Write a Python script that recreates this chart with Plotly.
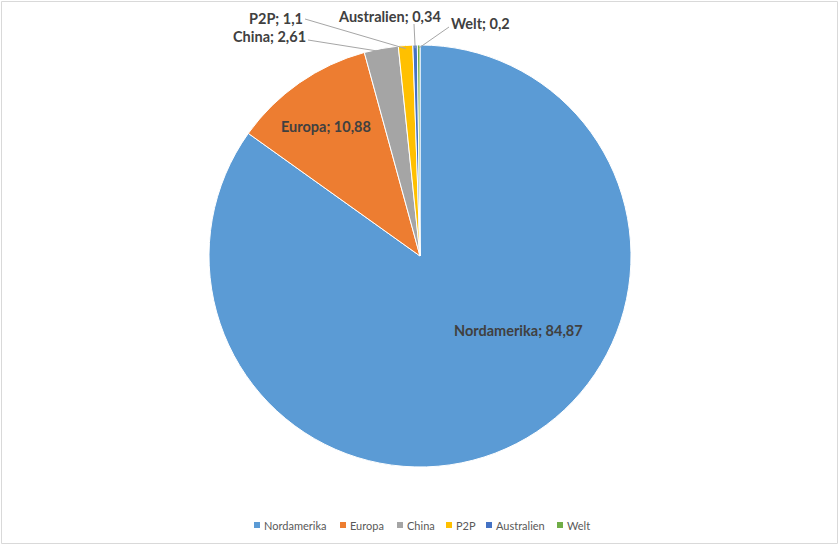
import math
import plotly.graph_objects as go

# ---- data ----
labels = ["Nordamerika", "Europa", "China", "P2P", "Australien", "Welt"]
values = [84.87, 10.88, 2.61, 1.1, 0.34, 0.2]
colors = ["#5b9bd5", "#ed7d31", "#a5a5a5", "#ffc000", "#4472c4", "#70ad47"]

W, H = 839, 545
CX, CY, R = 420, 256, 211  # pie centre / radius in pixels

def px(x):
    return x / W

def py(y):
    return 1 - y / H

# label positions (pixels) and leader line start points (None = inside label)
label_pos = [(518, 330), (326, 126), (269, 36), (276, 18), (389, 16), (480, 23)]
leader_start = [None, None, (308, 40), (305, 19), (414, 24), (449, 27)]
# custom legend: x of each colour square (pixels), legend row centre y
legend_x = [254, 340, 397, 446, 486, 557]
legend_y = 525

fig = go.Figure()
fig.add_trace(go.Pie(
    labels=labels,
    values=values,
    sort=False,
    direction="clockwise",
    rotation=0,
    marker=dict(colors=colors, line=dict(color="white", width=1)),
    textinfo="none",
    hoverinfo="label+value",
    showlegend=False,
    domain=dict(x=[px(CX - R), px(CX + R)], y=[py(CY + R), py(CY - R)]),
))

total = sum(values)
annotations = []
shapes = []
cum = 0.0
for lab, val, pos, start in zip(labels, values, label_pos, leader_start):
    mid = (cum + val / 2) / total * 2 * math.pi
    cum += val
    txt = f"<b>{lab}; {str(val).replace('.', ',')}</b>"
    annotations.append(dict(
        x=px(pos[0]), y=py(pos[1]), xref="paper", yref="paper",
        text=txt, showarrow=False, xanchor="center", yanchor="middle",
        font=dict(family="Lato, Carlito, sans-serif", size=14.5, color="#404040"),
    ))
    if start is not None:
        ex = CX + R * 0.985 * math.sin(mid)
        ey = CY - R * 0.985 * math.cos(mid)
        shapes.append(dict(
            type="line", xref="paper", yref="paper",
            x0=px(start[0]), y0=py(start[1]), x1=px(ex), y1=py(ey),
            line=dict(color="#a6a6a6", width=1),
        ))

# legend (squares + names)
for lab, col, lx in zip(labels, colors, legend_x):
    shapes.append(dict(
        type="rect", xref="paper", yref="paper",
        x0=px(lx), x1=px(lx + 6), y0=py(legend_y + 3), y1=py(legend_y - 3),
        fillcolor=col, line=dict(width=0),
    ))
    annotations.append(dict(
        x=px(lx + 8), y=py(legend_y), xref="paper", yref="paper",
        text=lab, showarrow=False, xanchor="left", yanchor="middle",
        font=dict(family="Lato, Carlito, sans-serif", size=11, color="#595959"),
    ))

shapes.append(dict(
    type="rect", xref="paper", yref="paper",
    x0=1.5 / W, y0=1.5 / H, x1=1 - 1.5 / W, y1=1 - 1.5 / H,
    line=dict(color="#d9d9d9", width=1),
))

fig.update_layout(
    width=W, height=H,
    margin=dict(l=0, r=0, t=0, b=0),
    paper_bgcolor="white",
    plot_bgcolor="white",
    separators=",.",
    showlegend=False,
    annotations=annotations,
    shapes=shapes,
)

fig.write_html(
    "out.html",
    config={"displayModeBar": False},
    post_script="document.body.style.margin='0';document.body.style.overflow='hidden';",
)
